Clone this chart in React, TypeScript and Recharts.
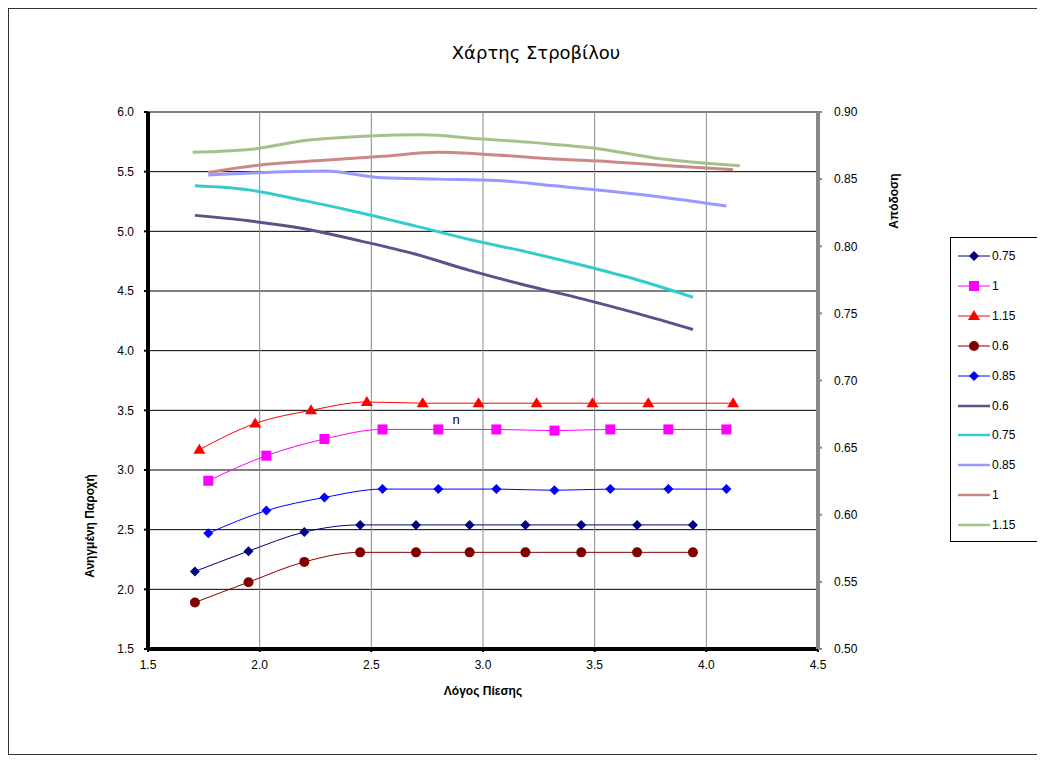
import React from "react";
import {CartesianGrid, Line, LineChart, ReferenceDot, XAxis, YAxis} from "recharts";

// pressure ratio values for each group of runs
const x075 = [1.71, 1.95, 2.20, 2.45, 2.70, 2.94, 3.19, 3.44, 3.69, 3.94];
const x085 = [1.77, 2.03, 2.29, 2.55, 2.80, 3.06, 3.32, 3.57, 3.83, 4.09];
const x115 = [1.73, 1.98, 2.23, 2.48, 2.73, 2.98, 3.24, 3.49, 3.74, 4.12];
const xEff1 = [1.77, 2.03, 2.29, 2.55, 2.80, 3.06, 3.32, 3.57, 3.83, 4.12];
const xEff115 = [1.70, 1.95, 2.21, 2.47, 2.73, 2.98, 3.24, 3.50, 3.76, 4.15];

// reduced mass flow (left axis)
const flow075 = [2.15, 2.32, 2.48, 2.54, 2.54, 2.54, 2.54, 2.54, 2.54, 2.54];
const flow1 = [2.91, 3.12, 3.26, 3.34, 3.34, 3.34, 3.33, 3.34, 3.34, 3.34];
const flow115 = [3.17, 3.39, 3.50, 3.57, 3.56, 3.56, 3.56, 3.56, 3.56, 3.56];
const flow06 = [1.89, 2.06, 2.23, 2.31, 2.31, 2.31, 2.31, 2.31, 2.31, 2.31];
const flow085 = [2.47, 2.66, 2.77, 2.84, 2.84, 2.84, 2.83, 2.84, 2.84, 2.84];

// efficiency (right axis)
const eff06 = [0.823, 0.819, 0.813, 0.804, 0.794, 0.782, 0.771, 0.761, 0.750, 0.738];
const eff075 = [0.845, 0.842, 0.834, 0.825, 0.815, 0.805, 0.796, 0.786, 0.775, 0.762];
const eff085 = [0.853, 0.855, 0.856, 0.851, 0.850, 0.849, 0.845, 0.841, 0.836, 0.830];
const eff1 = [0.855, 0.861, 0.864, 0.867, 0.870, 0.868, 0.865, 0.863, 0.860, 0.857];
const eff115 = [0.870, 0.872, 0.879, 0.882, 0.883, 0.880, 0.877, 0.873, 0.866, 0.860];

const xTicks = [1.5, 2.0, 2.5, 3.0, 3.5, 4.0, 4.5];
const leftTicks = [1.5, 2.0, 2.5, 3.0, 3.5, 4.0, 4.5, 5.0, 5.5, 6.0];
const rightTicks = [0.5, 0.55, 0.6, 0.65, 0.7, 0.75, 0.8, 0.85, 0.9];

type Pt = {x: number, y: number};
const zip = (xs: number[], ys: number[]): Pt[] => xs.map((x, i) => ({x, y: ys[i]}));

type Marker = "diamond" | "square" | "triangle" | "circle" | "none";

type Series = {
    name: string,
    data: Pt[],
    color: string,
    marker: Marker,
    axis: string,
    width: number
};

const series: Series[] = [
    {name: "0.75", data: zip(x075, flow075), color: "#000080", marker: "diamond", axis: "left", width: 1},
    {name: "1", data: zip(x085, flow1), color: "#ff00ff", marker: "square", axis: "left", width: 1},
    {name: "1.15", data: zip(x115, flow115), color: "#ff0000", marker: "triangle", axis: "left", width: 1},
    {name: "0.6", data: zip(x075, flow06), color: "#800000", marker: "circle", axis: "left", width: 1},
    {name: "0.85", data: zip(x085, flow085), color: "#0000ff", marker: "diamond", axis: "left", width: 1},
    {name: "0.6", data: zip(x075, eff06), color: "#55558a", marker: "none", axis: "right", width: 3},
    {name: "0.75", data: zip(x075, eff075), color: "#33cccc", marker: "none", axis: "right", width: 3},
    {name: "0.85", data: zip(x085, eff085), color: "#9999ff", marker: "none", axis: "right", width: 3},
    {name: "1", data: zip(xEff1, eff1), color: "#cc8888", marker: "none", axis: "right", width: 3},
    {name: "1.15", data: zip(xEff115, eff115), color: "#a6c08a", marker: "none", axis: "right", width: 3},
];

function markerShape(marker: Marker, color: string, cx: number, cy: number, key?: any) {
    switch (marker) {
        case "diamond":
            return <polygon key={key} points={`${cx},${cy - 5} ${cx + 5},${cy} ${cx},${cy + 5} ${cx - 5},${cy}`} fill={color}/>;
        case "square":
            return <rect key={key} x={cx - 5} y={cy - 5} width={10} height={10} fill={color}/>;
        case "triangle":
            return <polygon key={key} points={`${cx},${cy - 6} ${cx + 6},${cy + 4} ${cx - 6},${cy + 4}`} fill={color}/>;
        case "circle":
            return <circle key={key} cx={cx} cy={cy} r={5} fill={color}/>;
        default:
            return <g key={key}/>;
    }
}

const font = "'Liberation Sans', Arial, sans-serif";
const tickStyle = {fontSize: 12, fill: "#000", fontFamily: font};

function TurbineMap() {
    return (
        <div style={{position: "relative", width: 1037, height: 747, borderLeft: "1px solid #333", borderTop: "1px solid #333", borderBottom: "1px solid #333", boxSizing: "border-box", fontFamily: font}}>
            <div style={{position: "absolute", left: 527, top: 43, transform: "translate(-50%,-50%)", fontSize: 18, fontFamily: "'DejaVu Sans', sans-serif", whiteSpace: "nowrap"}}>
                Χάρτης Στροβίλου
            </div>
            <div style={{position: "absolute", left: 0, top: 0}}>
                <LineChart width={1037} height={747} margin={{top: 103, left: 79, right: 168, bottom: 77}}>
                    <CartesianGrid yAxisId="left" vertical={false} stroke="#000" strokeWidth={1}/>
                    <CartesianGrid yAxisId="left" horizontal={false} stroke="#888" strokeWidth={1}/>
                    <XAxis type="number" dataKey="x" domain={[1.5, 4.5]} ticks={xTicks} height={30}
                           tickFormatter={(v: number) => v.toFixed(1)} tick={tickStyle}
                           axisLine={{stroke: "#000", strokeWidth: 4}} tickLine={{stroke: "#000", strokeWidth: 2}}
                           tickSize={3} tickMargin={8} allowDataOverflow/>
                    <YAxis yAxisId="left" type="number" dataKey="y" domain={[1.5, 6]} ticks={leftTicks} width={60}
                           tickFormatter={(v: number) => v.toFixed(1)} tick={tickStyle}
                           axisLine={{stroke: "#000", strokeWidth: 4}} tickLine={{stroke: "#000", strokeWidth: 2}}
                           tickSize={4} tickMargin={10} allowDataOverflow/>
                    <YAxis yAxisId="right" orientation="right" type="number" dataKey="y" domain={[0.5, 0.9]} ticks={rightTicks} width={60}
                           tickFormatter={(v: number) => v.toFixed(2)} tick={tickStyle}
                           axisLine={{stroke: "#888", strokeWidth: 4}} tickLine={{stroke: "#888", strokeWidth: 2}}
                           tickSize={4} tickMargin={12} allowDataOverflow/>
                    {series.slice().reverse().map((s, i) => (
                        <Line key={i} yAxisId={s.axis} data={s.data} dataKey="y" name={s.name} type="monotone"
                              stroke={s.color} strokeWidth={s.width} isAnimationActive={false}
                              dot={s.marker === "none" ? false : (p: any) => markerShape(s.marker, s.color, p.cx, p.cy, p.index)}
                              activeDot={false}/>
                    ))}
                    <ReferenceDot yAxisId="left" x={2.88} y={3.42} r={0} fill="none" stroke="none"
                                  label={(p: any) => (
                                      <text x={p.viewBox.cx ?? p.viewBox.x} y={(p.viewBox.cy ?? p.viewBox.y) + 4} textAnchor="middle"
                                            fontSize={13} fill="#000" fontFamily={font}>n</text>
                                  )}/>
                </LineChart>
            </div>
            <div style={{position: "absolute", left: 474, top: 682, transform: "translate(-50%,-50%)", fontSize: 12, fontWeight: "bold", whiteSpace: "nowrap"}}>
                Λόγος Πίεσης
            </div>
            <div style={{position: "absolute", left: 81, top: 517, transform: "translate(-50%,-50%) rotate(-90deg)", fontSize: 12, fontWeight: "bold", whiteSpace: "nowrap"}}>
                Ανηγμένη Παροχή
            </div>
            <div style={{position: "absolute", left: 885, top: 192, transform: "translate(-50%,-50%) rotate(-90deg)", fontSize: 12, fontWeight: "bold", whiteSpace: "nowrap"}}>
                Απόδοση
            </div>
            <div style={{position: "absolute", left: 941, top: 228, width: 90, height: 305, border: "1px solid #000", boxSizing: "border-box", background: "#fff"}}>
                {series.map((s, i) => (
                    <div key={i} style={{position: "absolute", left: 6, top: 10 + i * 29.9, height: 16, display: "flex", alignItems: "center", fontSize: 12}}>
                        <svg width={34} height={14}>
                            <line x1={1} y1={7} x2={33} y2={7} stroke={s.color} strokeWidth={s.width === 1 ? 1 : 2.5}/>
                            {markerShape(s.marker, s.color, 17, 7)}
                        </svg>
                        <span style={{marginLeft: 1}}>{s.name}</span>
                    </div>
                ))}
            </div>
        </div>
    );
}

export default function App() {
    return <TurbineMap/>;
}
